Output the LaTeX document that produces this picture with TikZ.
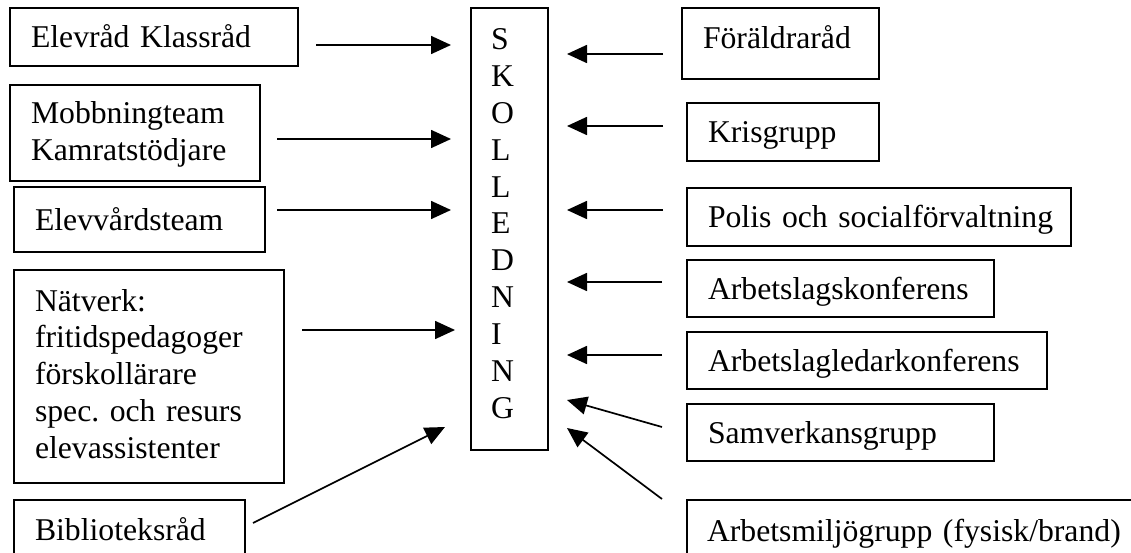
\documentclass[tikz,border=0pt]{standalone}
\usepackage{fontspec}
\setmainfont{Liberation Serif}
\usetikzlibrary{arrows.meta}
\frenchspacing
\begin{document}
\begin{tikzpicture}[x=1pt,y=-1pt,
  every node/.style={font=\fontsize{31.7pt}{36.8pt}\selectfont},
  box/.style={draw, line width=2pt, anchor=north west, inner xsep=21pt, inner ysep=0pt, align=left, text height=21.6pt, text depth=0pt},
  arr/.style={line width=1.7pt, -{Triangle[length=20pt,width=18pt]}}]
\clip (0,0) rectangle (1131,553);
% left column
\node[box, text width=246pt, minimum width=288pt, minimum height=58pt] (a1) at (9,7) {\mbox{Elevråd Klassråd}};
\node[box, text depth=39.6pt, text width=208pt, minimum width=250pt, minimum height=96pt] (a2) at (9,84) {Mobbningteam\\Kamratstödjare};
\node[box, text width=209pt, minimum width=251pt, minimum height=65pt] (a3) at (13,186) {\mbox{Elevvårdsteam}};
\node[box, text depth=152.6pt, text width=228pt, minimum width=270pt, minimum height=213pt] (a4) at (13,269) {Nätverk:\\fritidspedagoger\\förskollärare\\spec. och resurs\\elevassistenter};
\node[box, text width=189pt, minimum width=231pt, minimum height=60pt] (a5) at (13,499) {\mbox{Biblioteksråd}};
% centre
\node[box, inner xsep=20pt, text width=37pt, minimum width=77pt, minimum height=442pt, text depth=380.6pt, execute at begin node={\baselineskip=36.9pt}] (s) at (470,7) {S\\K\\O\\L\\L\\E\\D\\N\\I\\N\\G};
% right column
\node[box, text depth=10.6pt, text width=155pt, minimum width=197pt, minimum height=71pt] (b1) at (681,7) {\mbox{Föräldraråd}};
\node[box, text width=150pt, minimum width=192pt, minimum height=58pt] (b2) at (686,102) {\mbox{Krisgrupp}};
\node[box, text width=342pt, minimum width=384pt, minimum height=58pt] (b3) at (686,187) {\mbox{Polis och socialförvaltning}};
\node[box, text width=265pt, minimum width=307pt, minimum height=57pt] (b4) at (686,259) {\mbox{Arbetslagskonferens}};
\node[box, text width=318pt, minimum width=360pt, minimum height=57pt] (b5) at (686,331) {\mbox{Arbetslagledarkonferens}};
\node[box, text width=265pt, minimum width=307pt, minimum height=57pt] (b6) at (686,403) {\mbox{Samverkansgrupp}};
\node[box, inner xsep=20pt, text width=430pt, minimum width=470pt, minimum height=62pt] (b7) at (686,499) {\mbox{Arbetsmiljögrupp (fysisk/brand)}};
% arrow end points
\coordinate (l1s) at (316,45);  \coordinate (l1e) at (451,45);
\coordinate (l2s) at (277,139); \coordinate (l2e) at (451,139);
\coordinate (l3s) at (277,210); \coordinate (l3e) at (451,210);
\coordinate (l4s) at (302,330); \coordinate (l4e) at (455,330);
\coordinate (l5s) at (253,523); \coordinate (l5e) at (445,427);
\coordinate (r1s) at (663,54);  \coordinate (r1e) at (567,54);
\coordinate (r2s) at (663,126); \coordinate (r2e) at (567,126);
\coordinate (r3s) at (663,210); \coordinate (r3e) at (567,210);
\coordinate (r4s) at (662,282); \coordinate (r4e) at (567,282);
\coordinate (r5s) at (662,355); \coordinate (r5e) at (567,355);
\coordinate (r6s) at (662,427); \coordinate (r6e) at (567,400);
\coordinate (r7s) at (662,499); \coordinate (r7e) at (567,428);
\foreach \n in {l1,l2,l3,l4,l5,r1,r2,r3,r4,r5,r6,r7}
  \draw[arr] (\n s) -- (\n e);
\end{tikzpicture}
\end{document}
